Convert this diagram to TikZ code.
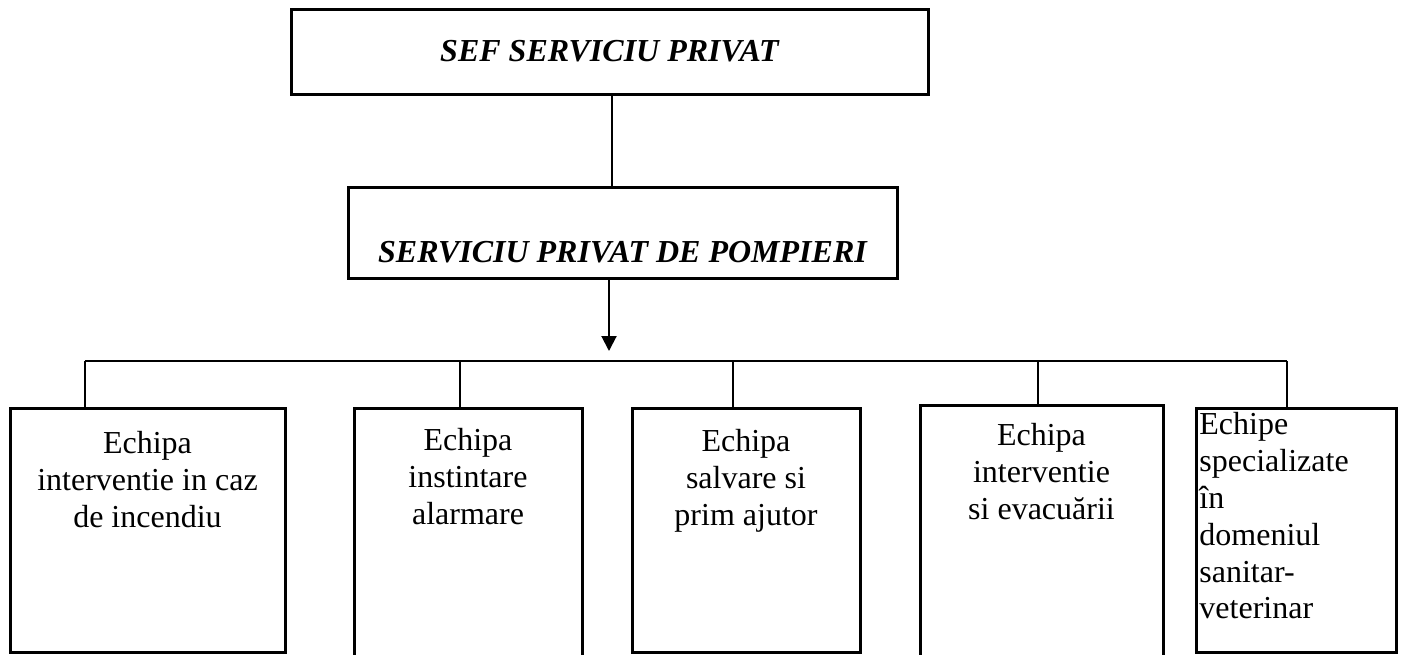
\documentclass[tikz,border=0pt]{standalone}
\usepackage{fontspec}
\setmainfont{Liberation Serif}
\usetikzlibrary{positioning,arrows.meta}

\begin{document}
\begin{tikzpicture}[x=0.75pt,y=-0.75pt,
  headbox/.style={draw,line width=2.25pt,inner sep=0pt,font=\fontsize{24}{27.6}\selectfont\bfseries\itshape},
  teambox/.style={draw,line width=2.25pt,inner sep=0pt},
  teamtext/.style={inner sep=0pt,align=center,font=\fontsize{24}{27.6}\selectfont},
  link/.style={line width=1.5pt}]
  \useasboundingbox[fill=white] (0,0) rectangle (1403,654);

  % top
  \node[headbox,minimum width=477.75pt,minimum height=63.75pt] (chief) at (609.5,51.5) {SEF SERVICIU PRIVAT};

  % main
  \node[headbox,minimum width=411.75pt,text height=56.25pt,text depth=12pt] (pompieri) at (622.5,232.5) {SERVICIU PRIVAT DE POMPIERI};

  % teams
  %boxes
  \node[teambox,minimum width=206.25pt,minimum height=183pt] (t1) at (147.5,530) {};
  \node[teambox,minimum width=171pt,minimum height=189pt] (t2) at (468,534) {};
  \node[teambox,minimum width=171pt,minimum height=183pt] (t3) at (746,530) {};
  \node[teambox,minimum width=182.25pt,minimum height=191.25pt] (t4) at (1041.5,532.5) {};
  \node[teambox,minimum width=150pt,minimum height=183pt] (t5) at (1296,530) {};
  %labels
  \node[teamtext,below=18.75pt of t1.north] (t1text) {Echipa\\interventie in caz\\de incendiu};
  \node[teamtext,below=16.5pt of t2.north] (t2text) {Echipa\\instintare\\alarmare};
  \node[teamtext,below=17.25pt of t3.north] (t3text) {Echipa\\salvare si\\prim ajutor};
  \node[teamtext,below=15pt of t4.north] (t4text) {Echipa\\interventie\\si evacuării};
  \node[teamtext,align=left,below right=4.5pt and 3.5pt of t5.north west] (t5text) {Echipe\\specializate\\în\\domeniul\\sanitar-\\veterinar};

  % links
  \coordinate (chieflink) at (612,94);
  \coordinate (arrowtip) at (609,351);
  \coordinate (b1) at (85,361);
  \coordinate (b2) at (460,361);
  \coordinate (b3) at (733,361);
  \coordinate (b4) at (1038,361);
  \coordinate (b5) at (1287,361);
  \draw[link] (chief.south -| chieflink) -- (pompieri.north -| chieflink);
  \draw[link,-{Triangle[width=11.25pt,length=11.25pt]}] (pompieri.south -| arrowtip) -- (arrowtip);
  \draw[link] (b1) -- (b5);
  \foreach \i in {1,...,5}
    \draw[link] (b\i) -- (b\i |- t\i.north);
\end{tikzpicture}
\end{document}
